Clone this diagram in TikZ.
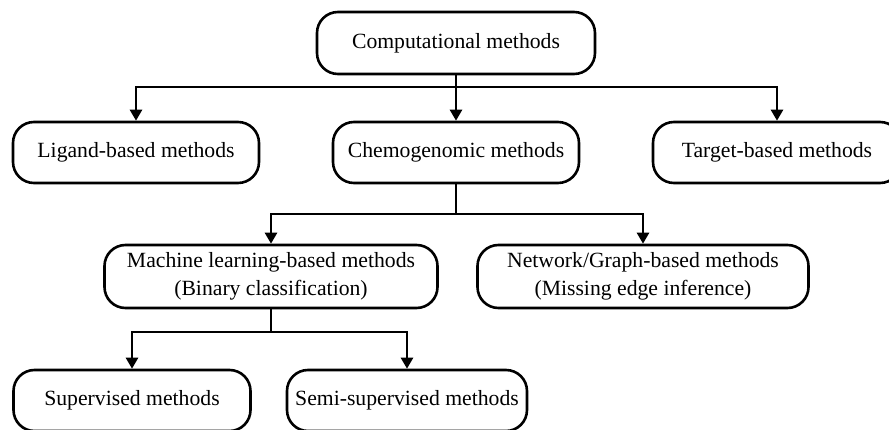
\documentclass[tikz,border=0pt]{standalone}
\usepackage{fontspec}
\setmainfont{Liberation Serif}
\usetikzlibrary{arrows.meta}
\begin{document}
\begin{tikzpicture}[x=1pt, y=-1pt,
    methbox/.style={draw=black, line width=2.6pt, rounded corners=21pt,
      inner sep=0pt, align=center, font=\fontsize{21.7}{28}\selectfont},
    link/.style={draw=black, line width=2.6pt},
    arr/.style={link, -{Triangle[width=12pt,length=11pt]}}]
      \useasboundingbox (0,0) rectangle (889,430);
      % Nivel 0
      \node[methbox, minimum width=278pt, minimum height=62pt] (comp) at (456,43)
        {Computational methods};
      % Nivel 1
      \node[methbox, minimum width=246pt, minimum height=61pt] (ligand) at (136,152.5)
        {Ligand-based methods};
      \node[methbox, minimum width=246pt, minimum height=61pt] (chemo)  at (456,152.5)
        {Chemogenomic methods};
      \node[methbox, minimum width=248pt, minimum height=61pt] (target) at (777,152.5)
        {Target-based methods};
      % Nivel 2
      \node[methbox, minimum width=333pt, minimum height=63pt] (ml)  at (271,276.5)
        {Machine learning-based methods\\(Binary classification)};
      \node[methbox, minimum width=331pt, minimum height=63pt] (net) at (643,276.5)
        {Network/Graph-based methods\\(Missing edge inference)};
      % Nivel 3
      \node[methbox, minimum width=237pt, minimum height=61pt] (sup)  at (132,400.5)
        {Supervised methods};
      \node[methbox, minimum width=240pt, minimum height=61pt] (semi) at (407,400.5)
        {Semi-supervised methods};

      % Ligacoes
      \coordinate (j0) at (456,87);
      \coordinate (j1) at (456,214);
      \coordinate (j2) at (271,332);

      \draw[link] (comp.south) -- (j0);
      \draw[arr]  (j0) -| (ligand.north);
      \draw[arr]  (j0) -- (chemo.north);
      \draw[arr]  (j0) -| (target.north);

      \draw[link] (chemo.south) -- (j1);
      \draw[arr]  (j1) -| (ml.north);
      \draw[arr]  (j1) -| (net.north);

      \draw[link] (ml.south) -- (j2);
      \draw[arr]  (j2) -| (sup.north);
      \draw[arr]  (j2) -| (semi.north);
    \end{tikzpicture}
\end{document}
